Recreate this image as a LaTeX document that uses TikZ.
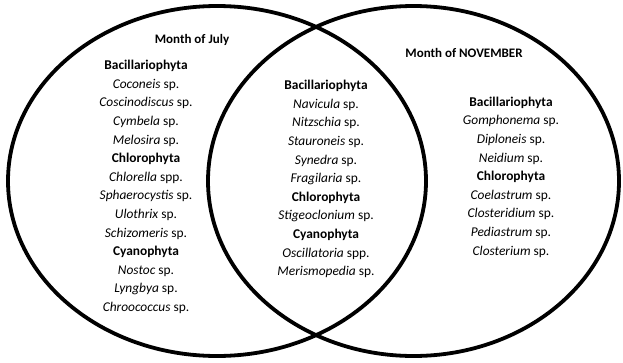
\documentclass[tikz,border=0pt]{standalone}
\usepackage{fontspec}
\setmainfont{Carlito}
\tikzset{
  venn/.style={line width=3.8pt},
  month/.style={font=\fontsize{13}{15}\selectfont\bfseries},
  taxa/.style={align=center, font=\fontsize{13.4}{18.6}\selectfont, inner sep=0pt}
}
\newcommand{\phylum}[1]{\textbf{#1}}

\begin{document}
\begin{tikzpicture}[x=1pt, y=-1pt]
    \useasboundingbox (0,0) rectangle (623,362);

                \draw[venn] (217,181) ellipse (209pt and 175pt);
                \draw[venn] (413.5,181) ellipse (205.5pt and 175pt);

                \node[month] (july) at (192,40) {Month of July};
                \node[month] (nov) at (464,53) {Month of NOVEMBER};

                \node[taxa] (onlyjuly) at (146,187) {\phylum{Bacillariophyta}\\
                    \textit{Coconeis} sp.\\ \textit{Coscinodiscus} sp.\\ \textit{Cymbela} sp.\\ \textit{Melosira} sp.\\
                    \phylum{Chlorophyta}\\
                    \textit{Chlorella} spp.\\ \textit{Sphaerocystis} sp.\\ \textit{Ulothrix} sp.\\ \textit{Schizomeris} sp.\\
                    \phylum{Cyanophyta}\\
                    \textit{Nostoc} sp.\\ \textit{Lyngbya} sp.\\ \textit{Chroococcus} sp.};

                \node[taxa] (both) at (326,179) {\phylum{Bacillariophyta}\\
                    \textit{Navicula} sp.\\ \textit{Nitzschia} sp.\\ \textit{Stauroneis} sp.\\ \textit{Synedra} sp.\\ \textit{Fragilaria} sp.\\
                    \phylum{Chlorophyta}\\
                    \textit{Stigeoclonium} sp.\\
                    \phylum{Cyanophyta}\\
                    \textit{Oscillatoria} spp.\\ \textit{Merismopedia} sp.};

                \node[taxa] (onlynov) at (511,177) {\phylum{Bacillariophyta}\\
                    \textit{Gomphonema} sp.\\ \textit{Diploneis} sp.\\ \textit{Neidium} sp.\\
                    \phylum{Chlorophyta}\\
                    \textit{Coelastrum} sp.\\ \textit{Closteridium} sp.\\ \textit{Pediastrum} sp.\\ \textit{Closterium} sp.};

\end{tikzpicture}
\end{document}
